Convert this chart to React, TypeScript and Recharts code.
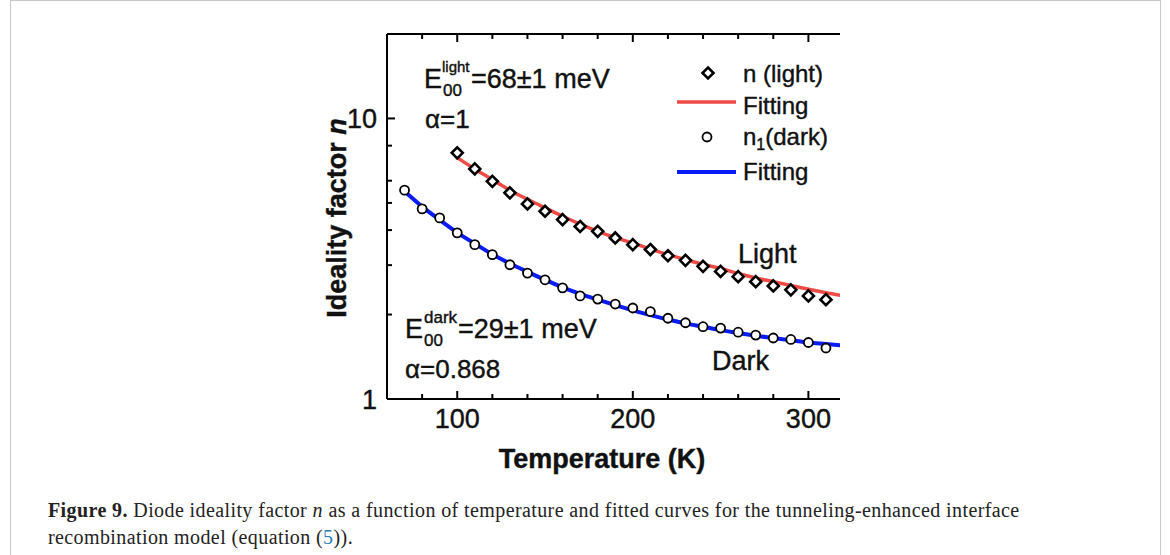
import React from "react";
import { ComposedChart, Line, XAxis, YAxis } from "recharts";

// measured points
const lightTemps = [100, 110, 120, 130, 140, 150, 160, 170, 180, 190, 200, 210, 220, 230, 240, 250, 260, 270, 280, 290, 300, 310];
const lightN = [7.54, 6.61, 5.97, 5.43, 4.96, 4.67, 4.36, 4.12, 3.96, 3.75, 3.55, 3.41, 3.24, 3.12, 2.97, 2.85, 2.73, 2.62, 2.53, 2.45, 2.33, 2.26];

const darkTemps = [70, 80, 90, 100, 110, 120, 130, 140, 150, 160, 170, 180, 190, 200, 210, 220, 230, 240, 250, 260, 270, 280, 290, 300, 310];
const darkN = [5.55, 4.76, 4.42, 3.91, 3.55, 3.27, 3.01, 2.81, 2.66, 2.49, 2.33, 2.27, 2.18, 2.11, 2.05, 1.94, 1.87, 1.81, 1.79, 1.73, 1.69, 1.65, 1.63, 1.59, 1.52];

// fitted curves
const fitLightTemps = [100, 110, 120, 130, 140, 150, 160, 170, 180, 190, 200, 210, 220, 230, 240, 250, 260, 270, 280, 290, 300, 310, 320];
const fitLightN = [7.25, 6.6, 6.05, 5.55, 5.15, 4.8, 4.48, 4.2, 3.96, 3.76, 3.6, 3.42, 3.27, 3.14, 3.02, 2.92, 2.8, 2.7, 2.62, 2.54, 2.46, 2.39, 2.33];

const fitDarkTemps = [70, 80, 90, 100, 110, 120, 130, 140, 150, 160, 170, 180, 190, 200, 210, 220, 230, 240, 250, 260, 270, 280, 290, 300, 310, 320];
const fitDarkN = [5.5, 4.85, 4.35, 3.92, 3.58, 3.28, 3.04, 2.84, 2.66, 2.5, 2.37, 2.26, 2.16, 2.07, 1.99, 1.92, 1.86, 1.81, 1.76, 1.72, 1.68, 1.65, 1.62, 1.59, 1.57, 1.55];

const xTicks = [80, 100, 120, 140, 160, 180, 200, 220, 240, 260, 280, 300];
const xLabels = [100, 200, 300];
const yTicks = [1, 2, 3, 4, 5, 6, 8, 10];
const yLabels = [1, 10];

const toPts = (t: number[], n: number[]) => t.map((T, i) => ({ T, n: n[i] }));

const lightData = toPts(lightTemps, lightN);
const darkData = toPts(darkTemps, darkN);
const fitLight = toPts(fitLightTemps, fitLightN);
const fitDark = toPts(fitDarkTemps, fitDarkN);

const FONT = "'Liberation Sans', Arial, sans-serif";
const RED = "#ef4a45";
const BLUE = "#0a1cf5";
const INK = "#111";

const Diamond = (p: any) => {
  const { cx, cy, index } = p;
  if (cx == null || cy == null) return <g key={index} />;
  const r = 5.5;
  return (
    <path
      key={index}
      d={`M${cx},${cy - r}L${cx + r},${cy}L${cx},${cy + r}L${cx - r},${cy}Z`}
      fill="#fff"
      stroke="#000"
      strokeWidth={2.6}
    />
  );
};

const Circle = (p: any) => {
  const { cx, cy, index } = p;
  if (cx == null || cy == null) return <g key={index} />;
  return <circle key={index} cx={cx} cy={cy} r={4.5} fill="#fff" stroke="#000" strokeWidth={1.8} />;
};

const BottomTick = (p: any) => {
  const { x, y, payload } = p;
  const major = xLabels.includes(payload.value);
  return (
    <g>
      <line x1={x} x2={x} y1={y} y2={y - (major ? 8 : 5)} stroke="#000" strokeWidth={2} />
      {major && (
        <text x={x} y={y + 29} textAnchor="middle" fontFamily={FONT} fontSize={27} fill={INK} stroke={INK} strokeWidth={0.4}>
          {payload.value}
        </text>
      )}
    </g>
  );
};

const TopTick = (p: any) => {
  const { x, y, payload } = p;
  const major = xLabels.includes(payload.value);
  return <line x1={x} x2={x} y1={y} y2={y + (major ? 8 : 5)} stroke="#000" strokeWidth={2} />;
};

const LeftTick = (p: any) => {
  const { x, y, payload } = p;
  const major = yLabels.includes(payload.value);
  return (
    <g>
      <line x1={x} x2={x + (major ? 8 : 5)} y1={y} y2={y} stroke="#000" strokeWidth={2} />
      {major && (
        <text x={x - 10} y={y + 10} textAnchor="end" fontFamily={FONT} fontSize={27} fill={INK} stroke={INK} strokeWidth={0.4}>
          {payload.value}
        </text>
      )}
    </g>
  );
};

export default function App() {
  return (
    <div style={{ position: "absolute", left: 0, top: 0, width: 1170, height: 555, background: "#fff", overflow: "hidden" }}>
      <div
        style={{
          position: "absolute",
          left: 10,
          top: 0,
          width: 1149,
          height: 600,
          border: "1px solid #c8c8c8",
        }}
      />
      <div style={{ position: "absolute", left: 0, top: 0 }}>
        <ComposedChart width={1170} height={555} margin={{ top: 4, left: 327, right: 330, bottom: 126 }}>
          <XAxis
            xAxisId="b"
            type="number"
            dataKey="T"
            domain={[60, 318]}
            allowDataOverflow
            ticks={xTicks}
            height={30}
            tickSize={0}
            tickMargin={0}
            tickLine={false}
            axisLine={{ stroke: "#000", strokeWidth: 2 }}
            tick={<BottomTick />}
            interval={0}
          />
          <XAxis
            xAxisId="t"
            orientation="top"
            type="number"
            dataKey="T"
            domain={[60, 318]}
            allowDataOverflow
            ticks={xTicks}
            height={30}
            tickSize={0}
            tickMargin={0}
            tickLine={false}
            axisLine={{ stroke: "#000", strokeWidth: 2 }}
            tick={<TopTick />}
            interval={0}
          />
          <YAxis
            scale="log"
            domain={[1, 20]}
            allowDataOverflow
            ticks={yTicks}
            width={60}
            tickSize={0}
            tickMargin={0}
            tickLine={false}
            axisLine={{ stroke: "#000", strokeWidth: 2 }}
            tick={<LeftTick />}
            interval={0}
          />
          <Line xAxisId="b" data={fitLight} dataKey="n" type="monotone" stroke={RED} strokeWidth={3.5} dot={false} isAnimationActive={false} />
          <Line xAxisId="b" data={fitDark} dataKey="n" type="monotone" stroke={BLUE} strokeWidth={4} dot={false} isAnimationActive={false} />
          <Line xAxisId="b" data={lightData} dataKey="n" stroke="none" dot={Diamond} activeDot={false} isAnimationActive={false} />
          <Line xAxisId="b" data={darkData} dataKey="n" stroke="none" dot={Circle} activeDot={false} isAnimationActive={false} />
        </ComposedChart>
      </div>

      <svg
        width={1170}
        height={555}
        style={{ position: "absolute", left: 0, top: 0, pointerEvents: "none" }}
        fontFamily={FONT}
        fill={INK}
        stroke={INK}
        strokeWidth={0.4}
      >
        {/* axis titles */}
        <text x={602} y={468} textAnchor="middle" fontSize={27} fontWeight="bold">
          Temperature (K)
        </text>
        <text transform="translate(346,218) rotate(-90)" textAnchor="middle" fontSize={27} fontWeight="bold">
          Ideality factor <tspan fontStyle="italic">n</tspan>
        </text>

        {/* annotations */}
        <text x={424} y={88} fontSize={27}>E</text>
        <text x={442} y={72} fontSize={15}>light</text>
        <text x={443} y={96} fontSize={17}>00</text>
        <text x={471} y={88} fontSize={27}>=68±1 meV</text>
        <text x={425} y={128} fontSize={26}>α=1</text>

        <text x={405} y={338} fontSize={27}>E</text>
        <text x={424} y={323} fontSize={17}>dark</text>
        <text x={424} y={346} fontSize={17}>00</text>
        <text x={458} y={338} fontSize={27}>=29±1 meV</text>
        <text x={405} y={378} fontSize={26}>α=0.868</text>

        <text x={738} y={263} fontSize={27}>Light</text>
        <text x={712} y={370} fontSize={27}>Dark</text>

        {/* legend */}
        <path d="M708,67.5L713.5,73L708,78.5L702.5,73Z" fill="#fff" stroke="#000" strokeWidth={2.6} />
        <text x={743} y={82} fontSize={24}>n (light)</text>
        <line x1={677} x2={736} y1={102} y2={102} stroke={RED} strokeWidth={3.5} />
        <text x={743} y={114} fontSize={24}>Fitting</text>
        <circle cx={707} cy={137} r={4.5} fill="#fff" stroke="#000" strokeWidth={1.8} />
        <text x={743} y={145} fontSize={24}>
          n<tspan fontSize={16} dy={5}>1</tspan>
          <tspan dy={-5}>(dark)</tspan>
        </text>
        <line x1={677} x2={736} y1={172} y2={172} stroke={BLUE} strokeWidth={4} />
        <text x={743} y={180} fontSize={24}>Fitting</text>
      </svg>

      <div
        style={{
          position: "absolute",
          left: 48,
          top: 497,
          width: 1100,
          whiteSpace: "nowrap",
          fontFamily: "'Liberation Serif', 'Times New Roman', serif",
          fontSize: 20,
          letterSpacing: "0.4px",
          lineHeight: "27px",
          color: "#222",
        }}
      >
        <b>Figure 9.</b> Diode ideality factor <i>n</i> as a function of temperature and fitted curves for the tunneling-enhanced interface
        <br />
        recombination model (equation (<span style={{ color: "#2a7ab8" }}>5</span>)).
      </div>
    </div>
  );
}
